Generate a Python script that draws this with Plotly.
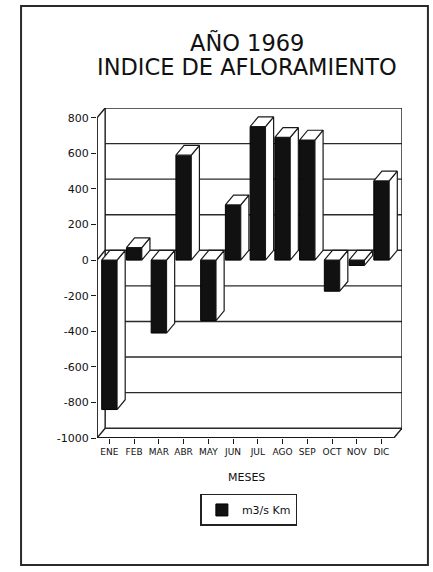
import plotly.graph_objects as go

# ---- data ----
months = ["ENE", "FEB", "MAR", "ABR", "MAY", "JUN", "JUL", "AGO", "SEP", "OCT", "NOV", "DIC"]
values = [-840, 70, -410, 590, -340, 310, 750, 690, 675, -175, -30, 445]
y_ticks = [-1000, -800, -600, -400, -200, 0, 200, 400, 600, 800]
y_tick_labels = ["-1000", "-800", "-600", "-400", "-200", "0", "200", "400", "600", "800"]
series_name = "m3/s Km"

# ---- 3D look parameters ----
DX = 0.33      # depth offset along x (category units)
DY = 55        # depth offset along y (value units)
BW = 0.62      # bar width
LINE = "#1a1a1a"
FONT = "DejaVu Sans"

xs = list(range(len(months)))
x_left, x_right = -0.5, len(months) - 0.5
y_min, y_max = y_ticks[0], y_ticks[-1]

fig = go.Figure()

# front faces (black)
fig.add_trace(go.Bar(
    x=xs, y=values, width=BW, name=series_name,
    marker=dict(color="#111111", line=dict(color="#000000", width=1)),
    showlegend=True,
))

# side and top faces (white with dark outline), computed from the values
side_x, side_y, top_x, top_y = [], [], [], []
for x, v in zip(xs, values):
    r = x + BW / 2
    l = x - BW / 2
    side_x += [r, r + DX, r + DX, r, r, None]
    side_y += [0, DY, v + DY, v, 0, None]
    ty = max(v, 0)
    top_x += [l, l + DX, r + DX, r, l, None]
    top_y += [ty, ty + DY, ty + DY, ty, ty, None]

fig.add_trace(go.Scatter(x=side_x, y=side_y, mode="lines", fill="toself",
                         fillcolor="white", line=dict(color=LINE, width=1.2),
                         showlegend=False, hoverinfo="skip"))
fig.add_trace(go.Scatter(x=top_x, y=top_y, mode="lines", fill="toself",
                         fillcolor="white", line=dict(color=LINE, width=1.2),
                         showlegend=False, hoverinfo="skip"))

# ---- walls / grid ----
shapes = []
def seg(x0, y0, x1, y1, w=1.4, color=LINE):
    shapes.append(dict(type="line", xref="x", yref="y", x0=x0, y0=y0, x1=x1, y1=y1,
                       line=dict(color=color, width=w), layer="below"))

for v in y_ticks:
    seg(x_left + DX, v + DY, x_right + DX, v + DY, w=1.4, color="#2a2a2a")
seg(x_left + DX, y_min + DY, x_left + DX, y_max + DY)
seg(x_right + DX, y_min + DY, x_right + DX, y_max + DY)
seg(x_left, y_min, x_left, y_max, w=1.8)
for v in (y_max, 0, y_min):
    seg(x_left, v, x_left + DX, v + DY)
seg(x_left, y_min, x_right, y_min, w=1.8)
seg(x_right, y_min, x_right + DX, y_min + DY)

# outer frame (paper coords)
shapes.append(dict(type="rect", xref="paper", yref="paper",
                   x0=-0.249, x1=1.085, y0=-0.385, y1=1.309,
                   line=dict(color="#2a2a2a", width=2), layer="below"))

annotations = [
    dict(text="AÑO 1969", xref="paper", yref="paper", x=0.492, y=1.197,
         yanchor="middle", showarrow=False, font=dict(family=FONT, size=22.5, color="#111")),
    dict(text="INDICE DE AFLORAMIENTO", xref="paper", yref="paper", x=0.492, y=1.124,
         yanchor="middle", showarrow=False, font=dict(family=FONT, size=22.5, color="#111")),
    dict(text="MESES", xref="paper", yref="paper", x=0.49, y=-0.121,
         yanchor="middle", showarrow=False, font=dict(family=FONT, size=11, color="#111")),
]

fig.update_layout(
    width=433, height=572,
    margin=dict(l=97, r=31, t=108, b=134, autoexpand=False),
    paper_bgcolor="white", plot_bgcolor="white",
    shapes=shapes, annotations=annotations,
    bargap=0.38,
    xaxis=dict(range=[x_left, x_right + DX], tickvals=xs, ticktext=months,
               showgrid=False, zeroline=False, showline=False,
               ticks="outside", ticklen=5, tickcolor=LINE, tickwidth=1.3,
               tickfont=dict(family=FONT, size=9, color="#111")),
    yaxis=dict(range=[y_min, y_max + DY], tickvals=y_ticks, ticktext=y_tick_labels,
               showgrid=False, zeroline=False, showline=False,
               ticks="outside", ticklen=5, tickcolor=LINE, tickwidth=1.3,
               tickfont=dict(family=FONT, size=11, color="#111")),
    legend=dict(x=0.498, y=-0.218, xanchor="center", yanchor="middle",
                bordercolor="#222", borderwidth=1.5, bgcolor="white",
                font=dict(family=FONT, size=11, color="#111"),
                itemwidth=30),
    showlegend=True,
)

fig.write_html("out.html", config={"displayModeBar": False},
               post_script="document.body.style.margin='0';document.body.style.overflow='hidden';")
